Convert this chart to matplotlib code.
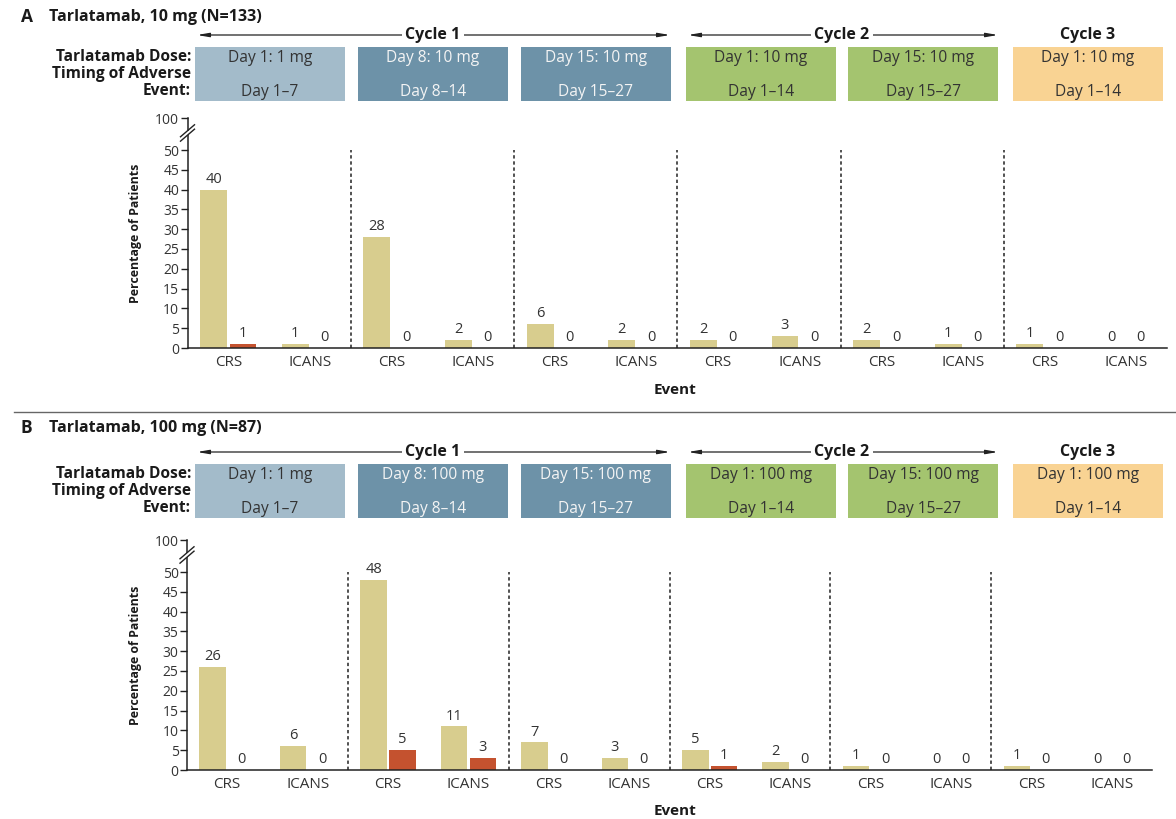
#! /usr/bin/env python3

## Libraries
import numpy as np
import matplotlib.pyplot as plt
from matplotlib.patches import Rectangle

plt.rcParams['font.family'] = ['Open Sans', 'DejaVu Sans']

#-----------------------------------------------------------------------
## Data
events = ['CRS', 'ICANS'] * 6

dose_10mg  = ['Day 1: 1 mg', 'Day 8: 10 mg', 'Day 15: 10 mg',
              'Day 1: 10 mg', 'Day 15: 10 mg', 'Day 1: 10 mg']
dose_100mg = ['Day 1: 1 mg', 'Day 8: 100 mg', 'Day 15: 100 mg',
              'Day 1: 100 mg', 'Day 15: 100 mg', 'Day 1: 100 mg']
timing     = ['Day 1\u20137', 'Day 8\u201314', 'Day 15\u201327',
              'Day 1\u201314', 'Day 15\u201327', 'Day 1\u201314']
cycles     = ['Cycle 1', 'Cycle 2', 'Cycle 3']

# any grade / grade >= 3, per event (CRS, ICANS) and per dosing period
any_10mg  = [40, 1, 28, 2, 6, 2, 2, 3, 2, 1, 1, 0]
sev_10mg  = [1, 0, 0, 0, 0, 0, 0, 0, 0, 0, 0, 0]
any_100mg = [26, 6, 48, 11, 7, 3, 5, 2, 1, 0, 1, 0]
sev_100mg = [0, 0, 5, 3, 0, 0, 1, 0, 0, 0, 0, 0]

yticks  = [0, 5, 10, 15, 20, 25, 30, 35, 40, 45, 50]

#-----------------------------------------------------------------------
## Style
W, H = 1176, 819
PX_UNIT = 3.96          # pixels per percentage point
YTOP = 58               # where the "100" tick sits above the break

c_any = '#d8cd8e'
c_sev = '#c4522f'
box_fc = ['#a3bbca', '#6d92a8', '#6d92a8', '#a4c46f', '#a4c46f', '#f9d393']
box_tc = ['#333333', '#f4f4f4', '#f4f4f4', '#333333', '#333333', '#333333']
box_left = [195, 358, 521, 686, 848, 1013]
box_w = 150
txt = '#333333'
dark = '#1a1a1a'

fig = plt.figure(figsize=(W / 100, H / 100), dpi=100)

ov = fig.add_axes([0, 0, 1, 1], zorder=5)
ov.set_xlim(0, W)
ov.set_ylim(H, 0)
ov.axis('off')
ov.patch.set_alpha(0)


def draw_panel(letter, title, doses, any_vals, sev_vals,
               title_y, arrow_y, box_top, box_bot, zero_y, left, right, event_y):
	'''
	Header (cycles, dose boxes) plus the bar chart for one dose group.
	'''
	# title
	ov.text(21, title_y, letter, fontsize=12.5, fontweight='bold', color=dark, va='center')
	ov.text(49, title_y, title, fontsize=11.5, fontweight='bold', color=dark, va='center')

	# cycle arrows
	arrow = dict(arrowstyle='<|-|>,head_length=0.7,head_width=0.12', lw=0.9,
	             color='#222222', shrinkA=0, shrinkB=0)
	ov.annotate('', xy=(670, arrow_y), xytext=(197, arrow_y), arrowprops=arrow)
	ov.annotate('', xy=(998, arrow_y), xytext=(688, arrow_y), arrowprops=arrow)
	for cx, lab in zip([433, 842, 1088], cycles):
		ov.text(cx, arrow_y, lab, fontsize=11.5, fontweight='bold', color=dark,
		        ha='center', va='center',
		        bbox=dict(fc='white', ec='none', pad=2.5))

	# row labels
	for dy, lab in zip([10, 27, 44], ['Tarlatamab Dose:', 'Timing of Adverse', 'Event:']):
		ov.text(191, box_top + dy, lab, fontsize=11.2, fontweight='bold', color=dark,
		        ha='right', va='center')

	# dose boxes
	for i in range(6):
		ov.add_patch(Rectangle((box_left[i], box_top), box_w, box_bot - box_top,
		                       fc=box_fc[i], ec='none'))
		xc = box_left[i] + box_w / 2
		ov.text(xc, box_top + 11, doses[i], fontsize=11.2, color=box_tc[i],
		        ha='center', va='center')
		ov.text(xc, box_top + 45, timing[i], fontsize=11.2, color=box_tc[i],
		        ha='center', va='center')

	# bar chart
	ax = fig.add_axes([left / W, 1 - zero_y / H, (right - left) / W, YTOP * PX_UNIT / H])
	x = np.arange(len(events))
	ax.bar(x - 0.18, any_vals, 0.33, color=c_any, zorder=2)
	ax.bar(x + 0.18, sev_vals, 0.33, color=c_sev, zorder=2)
	for xi, v in zip(x - 0.18, any_vals):
		ax.annotate(str(v), (xi, v), xytext=(0, 2), textcoords='offset points',
		            ha='center', va='bottom', fontsize=10.5, color=txt)
	for xi, v in zip(x + 0.18, sev_vals):
		ax.annotate(str(v), (xi, v), xytext=(0, 2), textcoords='offset points',
		            ha='center', va='bottom', fontsize=10.5, color=txt)

	# dashed separators between dosing periods
	for sep in np.arange(1.5, 11, 2):
		ax.plot([sep, sep], [0, 50], color='#222222', lw=1.1,
		        linestyle=(0, (2.2, 1.8)), zorder=1)

	ax.set_xlim(-0.5, 11.5)
	ax.set_ylim(0, YTOP)
	ax.set_xticks(x)
	ax.set_xticklabels(events, fontsize=11, color=txt)
	ax.set_yticks(yticks + [YTOP])
	ax.set_yticklabels([str(t) for t in yticks] + ['100'], fontsize=10, color=txt)
	ax.tick_params(axis='x', length=0, pad=5)
	ax.tick_params(axis='y', length=5, width=1, pad=1, color='#222222')
	for s in ['top', 'right']:
		ax.spines[s].set_visible(False)
	for s in ['left', 'bottom']:
		ax.spines[s].set_color('#222222')
		ax.spines[s].set_linewidth(1.1)
	ax.patch.set_alpha(0)

	ax.set_ylabel('Percentage of Patients', fontsize=8.9, fontweight='bold', color=dark)
	ax.yaxis.set_label_coords(-(left - 135) / (right - left), 0.5)
	ax.yaxis.label.set_va('center')
	ax.set_xlabel('Event', fontsize=11, fontweight='bold', color=dark)
	ax.xaxis.set_label_coords((675 - left) / (right - left), -(event_y - zero_y) / (YTOP * PX_UNIT))
	ax.xaxis.label.set_va('center')

	# axis break on the y spine
	by = zero_y - 54.3 * PX_UNIT
	ov.add_patch(Rectangle((left - 3, by - 2), 6, 4, fc='white', ec='none'))
	for d in [-2.2, 2.2]:
		ov.plot([left - 7, left + 7], [by + d + 6, by + d - 6], color='#222222', lw=1)


draw_panel('A', 'Tarlatamab, 10 mg (N=133)', dose_10mg, any_10mg, sev_10mg,
           title_y=17, arrow_y=35, box_top=47, box_bot=101, zero_y=348,
           left=187.5, right=1167, event_y=390)

ov.plot([14, W], [412, 412], color='#666666', lw=1)

draw_panel('B', 'Tarlatamab, 100 mg (N=87)', dose_100mg, any_100mg, sev_100mg,
           title_y=428, arrow_y=452, box_top=464, box_bot=518, zero_y=770,
           left=187, right=1152, event_y=811)

plt.savefig('out.png', dpi=100)
